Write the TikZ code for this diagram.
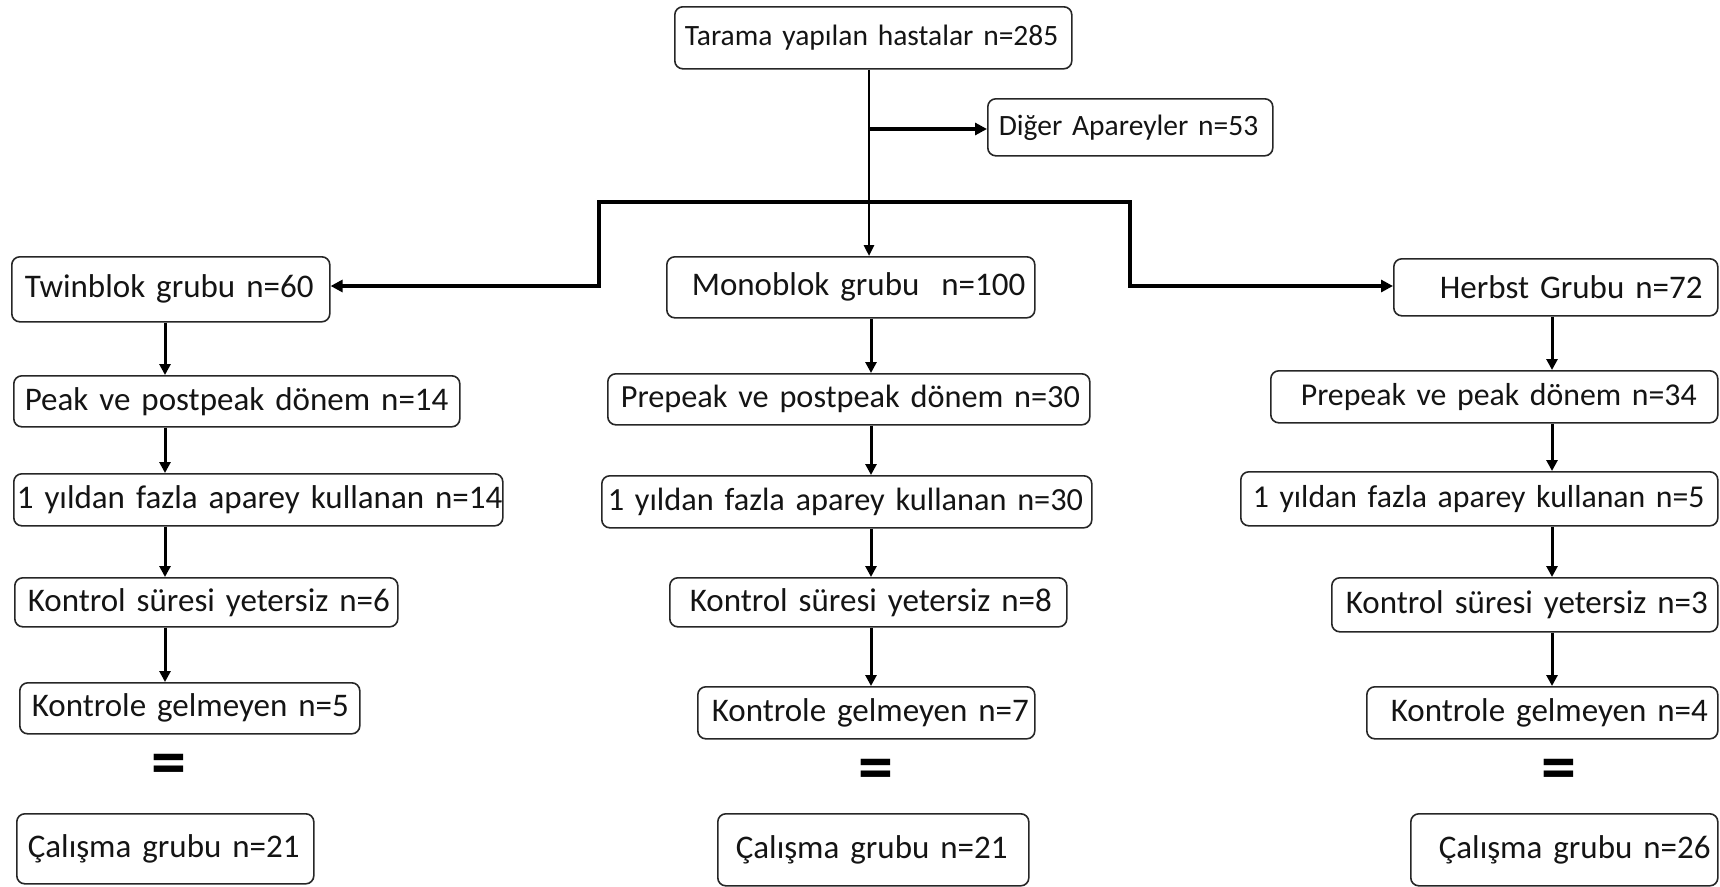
\documentclass[tikz,border=0pt]{standalone}
\usepackage{fontspec}
\setmainfont{Carlito}
\usetikzlibrary{arrows.meta}
\newcommand\flowbox[8][]{%
  \pgfmathsetmacro\flowtw{#5-2*#7}%
  \node[box, #1, text width=\flowtw pt, inner xsep=#7pt, minimum height=#6pt] (#2) at (#3,#4) {\mbox{#8}};}
\begin{document}
\begin{tikzpicture}[x=1pt,y=-1pt,
  box/.style={draw=black!85, line width=1.6pt, rounded corners=8pt, anchor=north west,
    inner ysep=0pt, align=left, font=\fontsize{33}{38}\selectfont, text=black!92},
  smallfont/.style={font=\fontsize{29.5}{34}\selectfont},
  midfont/.style={font=\fontsize{32.3}{37}\selectfont},
  lowfont/.style={font=\fontsize{31.8}{37}\selectfont},
  arr/.style={draw=black, line width=3pt, -{Triangle[length=11pt,width=11pt]}},
  sidearr/.style={draw=black, line width=3.6pt, -{Triangle[length=12pt,width=12pt]}},
  mainline/.style={draw=black, line width=2.6pt, -{Triangle[length=11pt,width=10pt]}},
  branch/.style={draw=black, line width=4pt, line join=miter, -{Triangle[length=12pt,width=12pt]}},
  eqs/.style={font=\fontsize{70}{70}\selectfont\bfseries, inner sep=0pt}]
\useasboundingbox (0,0) rectangle (1720,886);

\flowbox[smallfont]{top}{674}{6}{397}{62}{10}{Tarama yapılan hastalar n=285}
\flowbox[smallfont]{dig}{987}{98}{285}{57}{11}{Diğer Apareyler n=53}

\flowbox{tw}{11}{256}{318}{65}{13}{Twinblok grubu n=60}
\flowbox{mono}{666}{256}{368}{61}{25}{Monoblok grubu \ n=100}
\flowbox{hb}{1393}{258}{324}{57}{46}{Herbst Grubu n=72}

\flowbox{pkL}{13}{375}{446}{51}{11}{Peak ve postpeak dönem n=14}
\flowbox[midfont]{pkM}{607}{373}{482}{51}{13}{Prepeak ve postpeak dönem n=30}
\flowbox[lowfont]{pkR}{1270}{370}{447}{52}{30}{Prepeak ve peak dönem n=34}

\flowbox{yL}{13}{473}{489}{52}{3}{1 yıldan fazla aparey kullanan n=14}
\flowbox[midfont]{yM}{601}{475}{490}{52}{6}{1 yıldan fazla aparey kullanan n=30}
\flowbox[lowfont]{yR}{1240}{471}{477}{54}{12}{1 yıldan fazla aparey kullanan n=5}

\flowbox{kL}{14}{577}{383}{49}{13}{Kontrol süresi yetersiz n=6}
\flowbox{kM}{669}{577}{397}{49}{20}{Kontrol süresi yetersiz n=8}
\flowbox{kR}{1331}{577}{386}{54}{14}{Kontrol süresi yetersiz n=3}

\flowbox{gL}{19}{682}{340}{51}{12}{Kontrole gelmeyen n=5}
\flowbox{gM}{697}{686}{337}{52}{14}{Kontrole gelmeyen n=7}
\flowbox{gR}{1366}{686}{351}{52}{24}{Kontrole gelmeyen n=4}

\node[eqs] (eL) at (169,770) {=};
\node[eqs] (eM) at (876,775) {=};
\node[eqs] (eR) at (1559,775) {=};

\flowbox{cLb}{16}{813}{297}{70}{11}{Çalışma grubu n=21}
\flowbox{cMb}{717}{813}{311}{72}{18}{Çalışma grubu n=21}
\flowbox{cRb}{1410}{813}{307}{72}{28}{Çalışma grubu n=26}

% column guide coordinates
\coordinate (xL) at (165,0);
\coordinate (xM) at (871,0);
\coordinate (xR) at (1552,0);
\coordinate (xT) at (869,0);

% top connectors
\draw[mainline] (top.south -| xT) -- (mono.north -| xT);
\coordinate (jD) at (869,129);
\draw[sidearr] (jD) -- (dig.west |- jD);
\coordinate (bL) at (599,202);
\coordinate (bR) at (1130,202);
\coordinate (yA) at (0,286);
\draw[draw=black, line width=4pt] ([xshift=-2pt]bL) -- ([xshift=2pt]bR);
\draw[branch] (bL) -- (bL |- yA) -- (tw.east |- yA);
\draw[branch] (bR) -- (bR |- yA) -- (hb.west |- yA);

% column arrows
\foreach \c/\a/\b in {L/tw/pkL, L/pkL/yL, L/yL/kL, L/kL/gL,
                     M/mono/pkM, M/pkM/yM, M/yM/kM, M/kM/gM,
                     R/hb/pkR, R/pkR/yR, R/yR/kR, R/kR/gR}
  \draw[arr] (\a.south -| x\c) -- (\b.north -| x\c);
\end{tikzpicture}
\end{document}
